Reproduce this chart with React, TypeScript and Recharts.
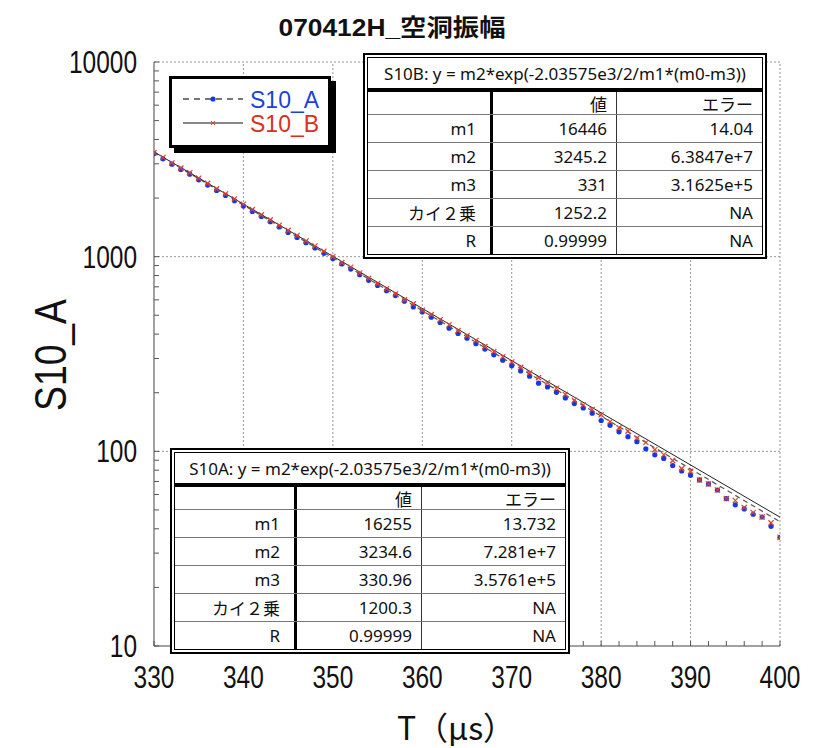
import React from 'react';
import { LineChart, Line, XAxis, YAxis, ReferenceLine } from 'recharts';

// time axis (µs)
const times = [
  330, 331, 332, 333, 334, 335, 336, 337, 338, 339,
  340, 341, 342, 343, 344, 345, 346, 347, 348, 349,
  350, 351, 352, 353, 354, 355, 356, 357, 358, 359,
  360, 361, 362, 363, 364, 365, 366, 367, 368, 369,
  370, 371, 372, 373, 374, 375, 376, 377, 378, 379,
  380, 381, 382, 383, 384, 385, 386, 387, 388, 389,
  390, 391, 392, 393, 394, 395, 396, 397, 398, 399,
  400,
];

// S10_A (blue dots)
const seriesA = [
  3387, 3181, 2988, 2805, 2654, 2483, 2331, 2188, 2063, 1938,
  1820, 1708, 1609, 1512, 1420, 1332, 1256, 1180, 1108, 1040,
  978, 918, 864, 808, 756, 712, 669, 631, 590, 552,
  520, 489, 459, 429, 403, 381, 357, 335, 313, 294,
  275, 259, 243, 224, 214, 201, 188, 176, 167, 157,
  144, 136, 126, 119, 112, 103, 96, 92, 84.5, 79.3,
  75.3, 71.3, 68, 63.3, 57.2, 53.1, 50.6, 47.5, 46, 41.2,
  36.2,
];

// S10_B (red crosses)
const seriesB = [
  3420, 3230, 3030, 2850, 2700, 2530, 2380, 2230, 2100, 1980,
  1860, 1745, 1640, 1545, 1450, 1365, 1285, 1205, 1135, 1065,
  1000, 932, 882, 824, 774, 727, 685, 644, 600, 572,
  531, 504, 474, 447, 417, 392, 371, 345, 326, 306,
  288, 270, 253, 239, 225, 211, 196, 183, 173, 164,
  154, 142, 132, 127, 117, 111, 102, 96, 89.6, 81.5,
  78.9, 71.3, 68, 63.3, 57.2, 55.9, 51.4, 48.5, 46, 42.9,
  36.2,
];

// fitted curves, read at both ends of the range
const fitT = [330, 400];
const fitA = [3435, 43.5];
const fitB = [3452, 45.9];

const xMajorTicks = [330, 340, 350, 360, 370, 380, 390, 400];
const xMinorTicks = [
  332, 334, 336, 338, 342, 344, 346, 348, 352, 354, 356, 358,
  362, 364, 366, 368, 372, 374, 376, 378, 382, 384, 386, 388,
  392, 394, 396, 398,
];
const yMajorTicks = [10, 100, 1000, 10000];
const yMinorTicks = [
  20, 30, 40, 50, 60, 70, 80, 90,
  200, 300, 400, 500, 600, 700, 800, 900,
  2000, 3000, 4000, 5000, 6000, 7000, 8000, 9000,
];

// fit tables
const tableRowNames = ['m1', 'm2', 'm3', 'カイ２乗', 'R'];
const tableHeader = ['', '値', 'エラー'];
const fitTitleB = 'S10B: y = m2*exp(-2.03575e3/2/m1*(m0-m3))';
const fitValuesB = ['16446', '3245.2', '331', '1252.2', '0.99999'];
const fitErrorsB = ['14.04', '6.3847e+7', '3.1625e+5', 'NA', 'NA'];
const fitTitleA = 'S10A: y = m2*exp(-2.03575e3/2/m1*(m0-m3))';
const fitValuesA = ['16255', '3234.6', '330.96', '1200.3', '0.99999'];
const fitErrorsA = ['13.732', '7.281e+7', '3.5761e+5', 'NA', 'NA'];

const pointsA = times.map((t, i) => ({ t, v: seriesA[i] }));
const pointsB = times.map((t, i) => ({ t, v: seriesB[i] }));
const fitLineA = fitT.map((t, i) => ({ t, v: fitA[i] }));
const fitLineB = fitT.map((t, i) => ({ t, v: fitB[i] }));

const FONT_NUM = "'Liberation Sans Narrow', 'Liberation Sans', Arial, sans-serif";
const FONT_TABLE = "'Noto Sans', 'Noto Sans CJK JP', sans-serif";
const BLUE = '#1438e4';
const RED = '#e0402a';

function XTick(props: any) {
  const { x, y, payload } = props;
  const v = payload.value;
  const major = xMajorTicks.includes(v);
  const label = String(v);
  return (
    <g>
      <line x1={x} x2={x} y1={y} y2={y - 5} stroke="#555" />
      {major && (
        <text x={x} y={y + 42} textAnchor="middle" fontSize={32} fontFamily={FONT_NUM} fill="#111"
          textLength={label.length * 13.6} lengthAdjust="spacingAndGlyphs">
          {label}
        </text>
      )}
    </g>
  );
}

function YTick(props: any) {
  const { x, y, payload } = props;
  const v = payload.value;
  const major = yMajorTicks.includes(v);
  const label = String(v);
  return (
    <g>
      <line x1={x} x2={x + 5} y1={y} y2={y} stroke="#555" />
      {major && (
        <text x={x - 17} y={y + 11} textAnchor="end" fontSize={32} fontFamily={FONT_NUM} fill="#111"
          textLength={label.length * 13.6} lengthAdjust="spacingAndGlyphs">
          {label}
        </text>
      )}
    </g>
  );
}

function CrossDot(props: any) {
  const { cx, cy, index } = props;
  if (cx == null || cy == null) return <g key={index} />;
  const s = 2.6;
  return (
    <g key={index} stroke={RED} strokeWidth={1.2}>
      <line x1={cx - s} y1={cy - s} x2={cx + s} y2={cy + s} />
      <line x1={cx - s} y1={cy + s} x2={cx + s} y2={cy - s} />
    </g>
  );
}

function FitTable({ left, top, title, values, errors, cols }: any) {
  const cell = (w: number, pr: number, extra: any = {}) => ({
    width: w, paddingRight: pr, boxSizing: 'border-box' as const, textAlign: 'right' as const,
    display: 'flex', alignItems: 'center', justifyContent: 'flex-end', ...extra,
  });
  const row = (a: string, b: string, c: string, h: number, first: boolean) => (
    <div style={{ display: 'flex', height: h, borderTop: first ? 'none' : '1px solid #777' }}>
      <div style={cell(cols[0] + 3, 14, { borderRight: '3px solid #000' })}>{a}</div>
      <div style={cell(cols[1] + 1, 9, { borderRight: '1px solid #333' })}>{b}</div>
      <div style={cell(cols[2], 9)}>{c}</div>
    </div>
  );
  return (
    <div style={{ position: 'absolute', left, top, border: '2px solid #000', padding: 2, background: '#fff' }}>
      <div style={{ border: '1px solid #000', width: cols[0] + cols[1] + cols[2] + 4, fontFamily: FONT_TABLE, fontSize: 17, color: '#111' }}>
        <div style={{ height: 30, display: 'flex', alignItems: 'center', justifyContent: 'center', borderBottom: '4px solid #000' }}>
          {title}
        </div>
        {row(tableHeader[0], tableHeader[1], tableHeader[2], 22, true)}
        {tableRowNames.map((n, i) => (
          <React.Fragment key={n}>{row(n, values[i], errors[i], 27, false)}</React.Fragment>
        ))}
      </div>
    </div>
  );
}

function LegendBox() {
  return (
    <div style={{ position: 'absolute', left: 169, top: 76, width: 156, height: 66, border: '3px solid #000', background: '#fff', boxShadow: '5px 5px 0 #000' }}>
      <svg width={156} height={66}>
        <line x1={11} x2={71} y1={20} y2={20} stroke="#777" strokeWidth={2} strokeDasharray="6 5" />
        <circle cx={41} cy={20} r={2.6} fill={BLUE} />
        <text x={78} y={29} fontSize={23} fontFamily="'Liberation Sans', Arial, sans-serif" fill="#1d3fe0">S10_A</text>
        <line x1={11} x2={71} y1={44} y2={44} stroke="#111" strokeWidth={1} />
        <g stroke={RED} strokeWidth={1}>
          <line x1={39} y1={42} x2={43} y2={46} />
          <line x1={39} y1={46} x2={43} y2={42} />
        </g>
        <text x={78} y={53} fontSize={23} fontFamily="'Liberation Sans', Arial, sans-serif" fill="#d9301c">S10_B</text>
      </svg>
    </div>
  );
}

export default function App() {
  return (
    <div style={{ position: 'absolute', left: 0, top: 0, width: 814, height: 748, background: '#fff' }}>
      <LineChart width={814} height={748} margin={{ top: 62, right: 34, bottom: 42, left: 54 }}>
        <XAxis dataKey="t" type="number" domain={[330, 400]} allowDataOverflow
          ticks={[...xMajorTicks, ...xMinorTicks]} interval={0} tickSize={0} tickMargin={0}
          tick={<XTick />} height={60} axisLine={{ stroke: '#444' }} tickLine={false} />
        <YAxis type="number" scale="log" domain={[10, 10000]} allowDataOverflow
          ticks={[...yMajorTicks, ...yMinorTicks]} interval={0} tickSize={0} tickMargin={0}
          tick={<YTick />} width={100} axisLine={{ stroke: '#444' }} tickLine={false} />
        {xMajorTicks.slice(1).map((v) => (
          <ReferenceLine key={'x' + v} x={v} stroke="#999" strokeDasharray="2 2" />
        ))}
        {yMajorTicks.slice(1).map((v) => (
          <ReferenceLine key={'y' + v} y={v} stroke="#999" strokeDasharray="2 2" />
        ))}
        <Line data={pointsA} dataKey="v" type="linear" stroke="none"
          dot={{ r: 2.6, fill: BLUE, stroke: 'none' }} activeDot={false} isAnimationActive={false} />
        <Line data={pointsB} dataKey="v" type="linear" stroke="none"
          dot={CrossDot} activeDot={false} isAnimationActive={false} />
        <Line data={fitLineA} dataKey="v" type="linear" stroke="#555" strokeWidth={1.2} strokeDasharray="5 4"
          dot={false} activeDot={false} isAnimationActive={false} />
        <Line data={fitLineB} dataKey="v" type="linear" stroke="#222" strokeWidth={1}
          dot={false} activeDot={false} isAnimationActive={false} />
      </LineChart>

      <svg width={814} height={748} style={{ position: 'absolute', left: 0, top: 0, pointerEvents: 'none' }}>
        <text x={392} y={36} textAnchor="middle" fontSize={24} fontWeight="bold"
          fontFamily="'Liberation Sans', 'Noto Sans CJK JP', sans-serif" fill="#111"
          textLength={227} lengthAdjust="spacingAndGlyphs">
          070412H_空洞振幅
        </text>
        <text transform="translate(66,355) rotate(-90)" textAnchor="middle" fontSize={44}
          fontFamily={FONT_NUM} fill="#111" textLength={112} lengthAdjust="spacingAndGlyphs">
          S10_A
        </text>
        <text x={456} y={740} textAnchor="middle" fontSize={32}
          fontFamily="'Noto Sans CJK JP', sans-serif" fill="#111">
          T（μs）
        </text>
      </svg>

      <FitTable left={363} top={53} title={fitTitleB} values={fitValuesB} errors={fitErrorsB} cols={[122, 123, 145]} />
      <FitTable left={170} top={448} title={fitTitleA} values={fitValuesA} errors={fitErrorsA} cols={[119, 124, 143]} />
      <LegendBox />
    </div>
  );
}
